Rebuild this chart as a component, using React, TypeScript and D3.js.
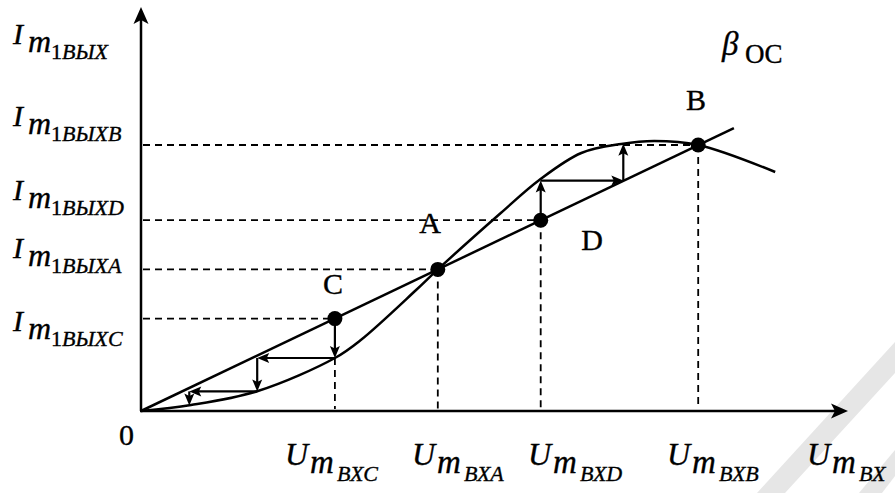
import React from "react";
import * as d3 from "d3";

const W = 895;
const H = 493;

// feedback line β_OC : y = slope * x
const feedbackSlope = 0.835;
const feedbackEndX = 84.7;

// transfer characteristic
const curveX = [0, 7.14, 16.7, 27.7, 31.4, 39.3, 42.4, 51.4, 56.9, 62.9, 68.6, 73.3, 79.6, 90.6];
const curveY = [0, 1.5, 5, 13.25, 17.75, 30.25, 35.4, 49.5, 57.75, 64.5, 66.75, 67.5, 66.5, 59.75];

// operating points
const pointNames = ["C", "A", "D", "B"];
const pointX = [27.7, 42.4, 57.1, 79.6];
const pointY = [23.1, 35.4, 47.7, 66.5];
const pointCurveY = [13.25, 35.4, 47.7, 66.5]; // where the vertical guide starts

// cobweb steps
const cobwebCX = [27.7, 27.7, 16.6, 16.6, 6.9, 6.9];
const cobwebCY = [23.1, 13.25, 13.25, 4.9, 4.9, 1.4];
const cobwebDX = [57.1, 57.1, 68.9, 68.9];
const cobwebDY = [47.7, 57.6, 57.6, 66.8];

// axis labels
const yLabelSubs = ["1ВЫХ", "1ВЫХB", "1ВЫХD", "1ВЫХA", "1ВЫХC"];
const xLabelSubs = ["ВХC", "ВХA", "ВХD", "ВХB", "ВХ"];

const yLabelBase = [44, 126, 200, 258, 331];
const xLabelLeft = [285, 412, 528, 667, 807];
const pointLabelPos = [
  [333, 294],
  [430, 233],
  [592, 250],
  [696, 110],
];

const FONT = "Liberation Serif";

function arrowHead(x1: number, y1: number, x2: number, y2: number, len: number, hw: number, notch: number) {
  const dx = x2 - x1;
  const dy = y2 - y1;
  const L = Math.hypot(dx, dy) || 1;
  const ux = dx / L;
  const uy = dy / L;
  const px = -uy;
  const py = ux;
  const bx = x2 - ux * len;
  const by = y2 - uy * len;
  const nx = x2 - ux * (len - notch);
  const ny = y2 - uy * (len - notch);
  return `M${x2},${y2}L${bx + px * hw},${by + py * hw}L${nx},${ny}L${bx - px * hw},${by - py * hw}Z`;
}

export default function App() {
  const x = d3.scaleLinear().domain([0, 100]).range([141, 841]);
  const y = d3.scaleLinear().domain([0, 100]).range([411, 11]);

  const curveData: [number, number][] = curveX.map((v, i) => [v, curveY[i]]);
  const curvePath = d3
    .line<[number, number]>()
    .x((d) => x(d[0]))
    .y((d) => y(d[1]))
    .curve(d3.curveCatmullRom.alpha(0.5))(curveData) as string;

  const fbPath = d3
    .line<[number, number]>()
    .x((d) => x(d[0]))
    .y((d) => y(d[1]))([
    [0, 0],
    [feedbackEndX, feedbackSlope * feedbackEndX],
  ]) as string;

  const cobweb = (xs: number[], ys: number[]) => {
    const out: any[] = [];
    for (let i = 0; i < xs.length - 1; i++) {
      const x1 = x(xs[i]);
      const y1 = y(ys[i]);
      const x2 = x(xs[i + 1]);
      const y2 = y(ys[i + 1]);
      const dx = x2 - x1;
      const dy = y2 - y1;
      const L = Math.hypot(dx, dy) || 1;
      const ex = x2 - (dx / L) * 8;
      const ey = y2 - (dy / L) * 8;
      out.push(
        <g key={`${xs[0]}-${i}`}>
          <line x1={x1} y1={y1} x2={ex} y2={ey} stroke="#000" strokeWidth={2.2} />
          <path d={arrowHead(x1, y1, x2, y2, 12, 5, 2.5)} fill="#000" />
        </g>
      );
    }
    return out;
  };

  const x0 = x(0);
  const y0 = y(0);
  const ital = { fontFamily: FONT, fontStyle: "italic", stroke: "#000", strokeWidth: 0.35 } as const;
  const upr = { fontFamily: FONT, fontStyle: "normal", stroke: "#000", strokeWidth: 0.35 } as const;

  return (
    <svg width={W} height={H} style={{ position: "absolute", left: 0, top: 0, background: "#fff" }}>
      <rect width={W} height={H} fill="#fff" />

      {/* watermark */}
      <g fill="#e6e6e6">
        <polygon points="757,493 785,493 895,373 895,342" />
        <polygon points="859,493 882,493 895,476 895,450" />
      </g>

      {/* dashed guides */}
      <g stroke="#000" strokeWidth={1.8} strokeDasharray="7,5" fill="none">
        {pointX.map((px, i) => (
          <line key={`h${i}`} x1={x0 + 2} y1={y(pointY[i])} x2={x(px)} y2={y(pointY[i])} />
        ))}
        {pointX.map((px, i) => (
          <line key={`v${i}`} x1={x(px)} y1={y(pointCurveY[i])} x2={x(px)} y2={y0 - 2} />
        ))}
      </g>

      {/* curve and feedback line */}
      <path d={curvePath} fill="none" stroke="#000" strokeWidth={2.5} />
      <path d={fbPath} fill="none" stroke="#000" strokeWidth={2.5} />

      {/* cobweb arrows */}
      {cobweb(cobwebCX, cobwebCY)}
      {cobweb(cobwebDX, cobwebDY)}

      {/* points */}
      {pointX.map((px, i) => (
        <circle key={`p${i}`} cx={x(px)} cy={y(pointY[i])} r={7.5} fill="#000" />
      ))}

      {/* axes */}
      <line x1={x0} y1={y0} x2={x0} y2={20} stroke="#000" strokeWidth={2.5} />
      <path d={arrowHead(x0, y0, x0, 7, 17, 7.5, 4)} fill="#000" />
      <line x1={x0 - 1} y1={y0} x2={835} y2={y0} stroke="#000" strokeWidth={2.5} />
      <path d={arrowHead(x0, y0, 848, y0, 17, 7.5, 4)} fill="#000" />

      {/* origin */}
      <text x={119} y={445} style={upr} fontSize={30}>
        0
      </text>

      {/* point labels */}
      {pointNames.map((n, i) => (
        <text key={`n${i}`} x={pointLabelPos[i][0]} y={pointLabelPos[i][1]} style={upr} fontSize={30} textAnchor="middle">
          {n}
        </text>
      ))}

      {/* beta_OC */}
      <text x={722} y={55} style={ital} fontSize={33}>
        β
      </text>
      <text x={745} y={63} style={upr} fontSize={27}>
        OC
      </text>

      {/* y labels */}
      {yLabelSubs.map((s, i) => {
        const b = yLabelBase[i];
        return (
          <g key={`yl${i}`}>
            <text x={13} y={b} style={ital} fontSize={30}>
              I
            </text>
            <text x={28} y={b + 8} style={ital} fontSize={32}>
              m
            </text>
            <text x={51} y={b + 15} style={ital} fontSize={22}>
              <tspan style={upr}>{s.charAt(0)}</tspan>
              {s.slice(1)}
            </text>
          </g>
        );
      })}

      {/* x labels */}
      {xLabelSubs.map((s, i) => {
        const l = xLabelLeft[i];
        return (
          <g key={`xl${i}`}>
            <text x={l} y={465} style={ital} fontSize={32}>
              U
            </text>
            <text x={l + 25} y={473} style={ital} fontSize={33}>
              m
            </text>
            <text x={l + 52} y={481} style={ital} fontSize={22}>
              {s}
            </text>
          </g>
        );
      })}
    </svg>
  );
}
